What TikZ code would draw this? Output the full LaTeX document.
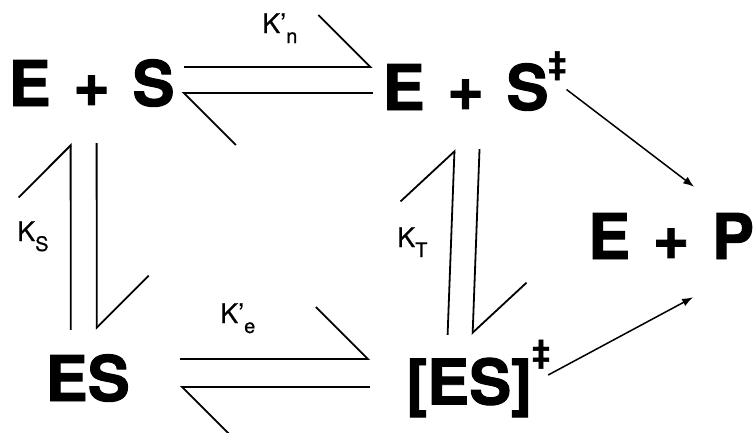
\documentclass[tikz,border=0pt]{standalone}
\usepackage{fontspec}
\setmainfont{TeX Gyre Heros}[BoldFeatures={FakeBold=1.5}]
\newfontfamily\ratefont{TeX Gyre Heros}[FakeBold=0.6]
\usetikzlibrary{arrows.meta}
\newcommand{\lsub}[1]{\raisebox{-10pt}{\fontsize{20}{20}\selectfont #1}}
\newcommand{\dbl}[1]{\raisebox{#1}{\fontsize{32}{32}\selectfont ‡}}
\newcommand{\pl}{\hspace{22.5pt}+\hspace{22.5pt}}
\tikzset{
  species/.style={font=\bfseries\fontsize{63}{63}\selectfont, inner sep=0pt, text height=45pt, text depth=0pt, anchor=west},
  rate/.style={font=\ratefont\fontsize{27}{27}\selectfont, inner sep=0pt, anchor=base west},
  harp/.style={line width=1.8pt, -{Straight Barb[left, length=52pt, width=104pt]}},
  arrow/.style={line width=1.5pt, -{Latex[length=11pt, width=8pt]}},
}

\begin{document}
\begin{tikzpicture}[x=1pt, y=-1pt]
  \useasboundingbox (0,0) rectangle (754,432);
  % species
  \node[species] (es) at (8.5,83.5) {E\pl S};
  \node[species] (ests) at (382.5,87.5) {E\pl S\dbl{36pt}};
  \node[species] (ep) at (588,236.5) {E\pl P};
  \node[species] (cplx) at (45.5,378.5) {ES};
  \node[species] (tcplx) at (406,382) {[ES]\dbl{42pt}};
  % constants
  \node[rate] (kn) at (262,33) {K’\lsub{n}};
  \node[rate] (ks) at (17,241) {K\lsub{S}};
  \node[rate] (kt) at (397,247) {K\lsub{T}};
  \node[rate] (ke) at (220,323) {K’\lsub{e}};
  % equilibria
  \draw[harp] ([xshift=9pt, yshift=16.5pt]es.east) -- ([xshift=-10pt, yshift=20.5pt]ests.west);
  \draw[harp] ([xshift=-10pt, yshift=-5.5pt]ests.west) -- ([xshift=7pt, yshift=-9.5pt]es.east);
  \draw[harp] ([xshift=-17pt, yshift=26pt]cplx.north) -- ([xshift=-21pt, yshift=-37pt]es.south);
  \draw[harp] ([xshift=5pt, yshift=-37pt]es.south) -- ([xshift=9pt, yshift=26pt]cplx.north);
  \draw[harp] ([xshift=-30.5pt, yshift=24.5pt]tcplx.north) -- ([xshift=-20pt, yshift=-39pt]ests.south);
  \draw[harp] ([xshift=5pt, yshift=-39pt]ests.south) -- ([xshift=-5.5pt, yshift=24.5pt]tcplx.north);
  \draw[harp] ([xshift=50pt, yshift=19.5pt]cplx.east) -- ([xshift=-36pt, yshift=23pt]tcplx.west);
  \draw[harp] ([xshift=-36pt, yshift=-5pt]tcplx.west) -- ([xshift=50pt, yshift=-8.5pt]cplx.east);
  % product formation
  \draw[arrow] ([yshift=-2pt]ests.east) -- ([xshift=23pt, yshift=27pt]ep.north);
  \draw[arrow] ([xshift=-2pt, yshift=7pt]tcplx.east) -- ([xshift=22pt, yshift=-38pt]ep.south);
\end{tikzpicture}
\end{document}
